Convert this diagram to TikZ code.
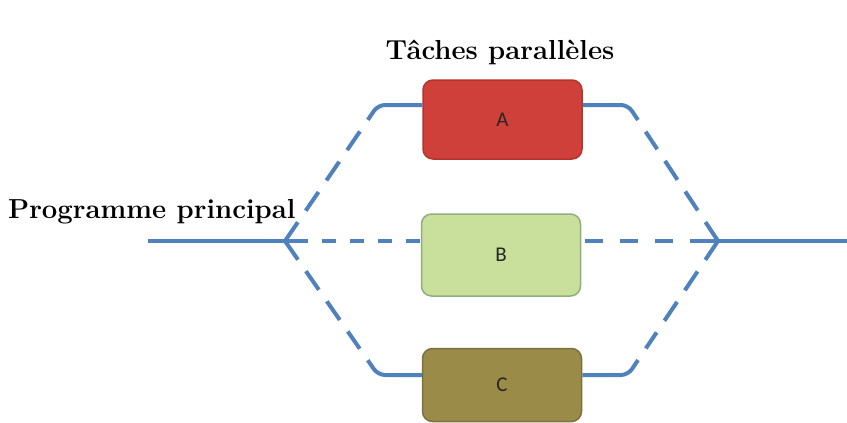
\documentclass[tikz,border=0pt]{standalone}
\usepackage{fontspec}
\usetikzlibrary{calc}
\newfontfamily\boxfont{Carlito}
\definecolor{lineblue}{HTML}{4F81BD}
\definecolor{afill}{HTML}{D0403A}
\definecolor{adraw}{HTML}{B5332E}
\definecolor{bfill}{HTML}{C8E09C}
\definecolor{bdraw}{HTML}{8FB07A}
\definecolor{cfill}{HTML}{9B8B48}
\definecolor{cdraw}{HTML}{7D7040}
\begin{document}
\begin{tikzpicture}[x=1pt,y=-1pt,
  task/.style={rounded corners=10pt, line width=1.5pt, inner sep=0pt,
    minimum width=159pt, minimum height=79pt, text=black!85, font=\boxfont\fontsize{21}{24}\selectfont},
  flow/.style={draw=lineblue, line width=4pt, line join=round},
  dsh/.style={flow, dash pattern=on 22.7pt off 14pt},
  corner/.style={flow, rounded corners=7pt},
  heading/.style={font=\bfseries\fontsize{27.5}{30}\selectfont, inner sep=0pt}]
\useasboundingbox (0,0) rectangle (847,423);
% boxes
\node[task, fill=afill, draw=adraw] (A) at (502.5,119.5) {A};
\node[task, fill=bfill, draw=bdraw, minimum height=82pt] (B) at (501,255) {B};
\node[task, fill=cfill, draw=cdraw, minimum height=73pt] (C) at (502,385) {C};
% junction coordinates
\coordinate (J1) at (285,241);
\coordinate (J2) at (718,241);
\coordinate (TL) at (378,105);
\coordinate (TR) at (628,105);
\coordinate (BL) at (378,375);
\coordinate (BR) at (628,375);
\coordinate (Lstart) at (148,241);
\coordinate (Rend) at (847,241);
% main line
\draw[flow] (Lstart) -- (303,241);
\draw[flow] (702,241) -- (Rend);
% top branch
\draw[dsh] (J1) -- ($(TL)!32pt!(J1)$);
\draw[corner] ($(TL)!18pt!(J1)$) -- (TL) -- (A.west |- TL);
\draw[corner] (A.east |- TR) -- (TR) -- ($(TR)!18pt!(J2)$);
\draw[dsh] (J2) -- ($(TR)!32pt!(J2)$);
% bottom branch
\draw[dsh] (J1) -- ($(BL)!32pt!(J1)$);
\draw[corner] ($(BL)!18pt!(J1)$) -- (BL) -- (C.west |- BL);
\draw[corner] (C.east |- BR) -- (BR) -- ($(BR)!18pt!(J2)$);
\draw[dsh] (J2) -- ($(BR)!32pt!(J2)$);
% middle branch
\draw[flow, dash pattern=on 14pt off 14pt, dash phase=-9pt] (J1) -- (B.west |- J1);
\draw[flow, dash pattern=on 18pt off 17pt, dash phase=-4pt] (B.east |- J2) -- (J2);
% headings
\node[heading] (T) at (500,52) {Tâches parallèles};
\node[heading, anchor=west] (P) at (8,212) {Programme principal};
\end{tikzpicture}
\end{document}
